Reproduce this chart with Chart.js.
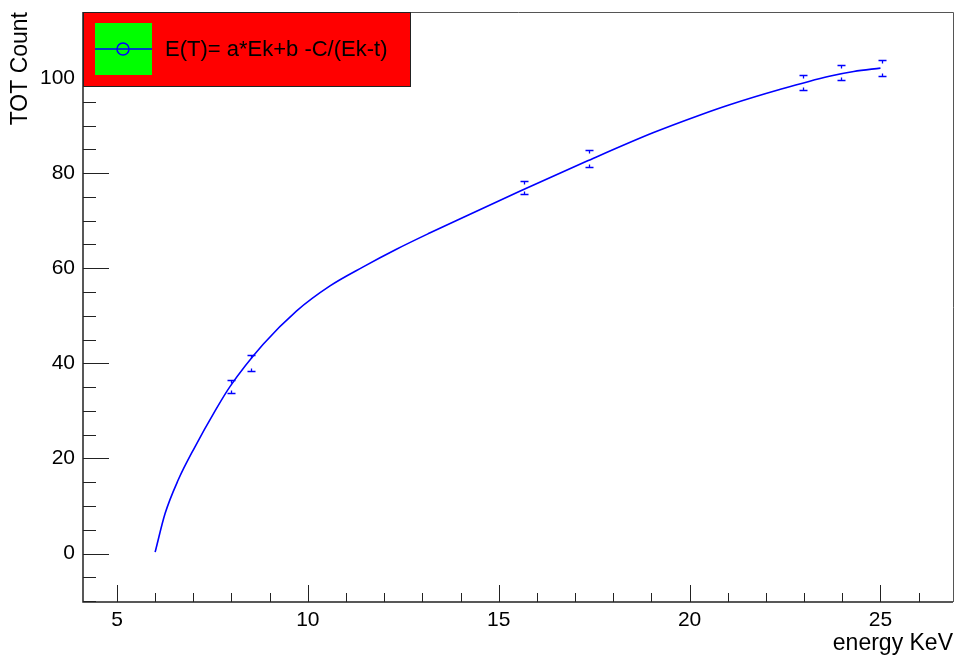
<!DOCTYPE html>
<html>
<head>
<meta charset="utf-8">
<script src="https://cdn.jsdelivr.net/npm/chart.js@4"></script>
<style>
  html, body { margin: 0; padding: 0; background: #fff; }
  canvas { display: block; }
</style>
</head>
<body>
<canvas id="chart" width="955" height="657"></canvas>
<script>
// measured points (energy in keV, TOT count, error)
const energy = [8.0, 8.5, 15.66, 17.36, 22.97, 23.97, 25.03];
const totCount = [35.1, 40.1, 77.0, 83.1, 99.0, 101.1, 102.1];
const totError = [1.4, 1.65, 1.4, 1.8, 1.6, 1.6, 1.6];

// fit curve
const fitEnergy = [6.0, 6.26, 6.6, 7.04, 7.57, 7.96, 8.83, 9.7, 10.58, 11.45, 12.32, 13.19, 14.15, 15.55, 17.3, 19.04, 20.26, 21.05, 22.36, 23.66, 24.3, 25.0];
const fitTot = [0.3, 8.4, 15.4, 22.4, 30.0, 35.1, 44.0, 51.0, 56.3, 60.3, 64.0, 67.4, 71.0, 76.2, 82.5, 88.5, 92.2, 94.4, 97.6, 100.4, 101.4, 102.1];

const xTicks = [5, 10, 15, 20, 25];
const yTicks = [0, 20, 40, 60, 80, 100];
const legendText = 'E(T)= a*Ek+b -C/(Ek-t)';

const FONT = "'Liberation Sans', Arial, sans-serif";

// ROOT style frame: inside ticks, minor ticks, box
const frameAndTicks = {
  id: 'frameAndTicks',
  afterDatasetsDraw(chart) {
    const { ctx, chartArea: a, scales: { x, y } } = chart;
    ctx.save();
    // top/right frame
    ctx.strokeStyle = '#555';
    ctx.lineWidth = 1;
    ctx.beginPath();
    ctx.moveTo(a.left, a.top + 0.5);
    ctx.lineTo(a.right + 0.5, a.top + 0.5);
    ctx.lineTo(a.right + 0.5, a.bottom);
    ctx.stroke();

    ctx.strokeStyle = '#222';
    ctx.lineWidth = 1.5;
    ctx.beginPath();
    ctx.moveTo(a.left, a.top);
    ctx.lineTo(a.left, a.bottom);
    ctx.lineTo(a.right, a.bottom);
    ctx.stroke();

    ctx.lineWidth = 1;
    ctx.beginPath();
    // y ticks
    for (let v = -10; v <= 110; v += 5) {
      const py = Math.round(y.getPixelForValue(v)) + 0.5;
      if (py < a.top || py > a.bottom) continue;
      const len = yTicks.includes(v) ? 26 : 13;
      ctx.moveTo(a.left, py);
      ctx.lineTo(a.left + len, py);
    }
    // x ticks
    for (let v = 5; v <= 26; v += 1) {
      const px = Math.round(x.getPixelForValue(v)) + 0.5;
      const len = xTicks.includes(v) ? 17 : 9;
      ctx.moveTo(px, a.bottom);
      ctx.lineTo(px, a.bottom - len);
    }
    ctx.stroke();

    // error bars
    ctx.strokeStyle = '#0000ff';
    ctx.lineWidth = 1.3;
    ctx.beginPath();
    energy.forEach((e, i) => {
      const px = Math.round(x.getPixelForValue(e)) + 0.5;
      const hi = Math.round(y.getPixelForValue(totCount[i] + totError[i])) + 0.5;
      const lo = Math.round(y.getPixelForValue(totCount[i] - totError[i])) + 0.5;
      ctx.moveTo(px - 4, hi); ctx.lineTo(px + 4, hi);
      ctx.moveTo(px, hi); ctx.lineTo(px, hi + 3);
      ctx.moveTo(px - 4, lo); ctx.lineTo(px + 4, lo);
      ctx.moveTo(px, lo); ctx.lineTo(px, lo - 3);
    });
    ctx.stroke();
    ctx.restore();
  },
  afterDraw(chart) {
    const { ctx, chartArea: a } = chart;
    ctx.save();
    // legend box
    ctx.fillStyle = '#ff0000';
    ctx.fillRect(a.left, a.top, 327, 74);
    ctx.strokeStyle = '#222';
    ctx.lineWidth = 1;
    ctx.strokeRect(a.left + 0.5, a.top + 0.5, 327, 74);
    ctx.fillStyle = '#00ff00';
    ctx.fillRect(a.left + 12, a.top + 11, 57, 52);
    ctx.strokeStyle = '#0000ff';
    ctx.lineWidth = 1.5;
    ctx.beginPath();
    ctx.moveTo(a.left + 12, a.top + 37);
    ctx.lineTo(a.left + 69, a.top + 37);
    ctx.stroke();
    ctx.beginPath();
    ctx.arc(a.left + 40, a.top + 37, 6, 0, Math.PI * 2);
    ctx.stroke();
    ctx.fillStyle = '#000';
    ctx.font = '22px ' + FONT;
    ctx.textBaseline = 'middle';
    ctx.fillText(chart.data.datasets[1].label, a.left + 82, a.top + 38);
    ctx.restore();
  }
};

new Chart(document.getElementById('chart'), {
  type: 'scatter',
  data: {
    datasets: [
      {
        label: 'fit',
        type: 'line',
        data: fitEnergy.map((e, i) => ({ x: e, y: fitTot[i] })),
        borderColor: '#0000ff',
        borderWidth: 1.6,
        pointRadius: 0,
        fill: false,
        cubicInterpolationMode: 'monotone'
      },
      {
        label: legendText,
        data: energy.map((e, i) => ({ x: e, y: totCount[i] })),
        pointRadius: 0,
        showLine: false
      }
    ]
  },
  options: {
    responsive: false,
    devicePixelRatio: 1,
    animation: false,
    layout: { padding: { top: 12, right: 2, left: 0, bottom: 0 } },
    plugins: { legend: { display: false }, tooltip: { enabled: false } },
    scales: {
      x: {
        type: 'linear',
        position: 'bottom',
        min: 4.11,
        max: 26.9,
        grid: { display: false, drawTicks: false },
        border: { display: false },
        afterBuildTicks: s => { s.ticks = xTicks.map(v => ({ value: v })); },
        afterFit: s => { s.height = 55; s.paddingLeft = 0; s.paddingRight = 0; },
        ticks: {
          color: '#000', padding: 6, maxRotation: 0, autoSkip: false,
          font: { family: FONT, size: 21 }
        },
        title: {
          display: true, text: 'energy KeV', align: 'end', color: '#000',
          font: { family: FONT, size: 23 }, padding: 0
        }
      },
      y: {
        type: 'linear',
        min: -10.2,
        max: 113.9,
        grid: { display: false, drawTicks: false },
        border: { display: false },
        afterBuildTicks: s => { s.ticks = yTicks.map(v => ({ value: v })); },
        afterFit: s => { s.width = 83; s.paddingTop = 0; s.paddingBottom = 0; },
        ticks: {
          color: '#000', padding: 8,
          font: { family: FONT, size: 21 }
        },
        title: {
          display: true, text: 'TOT Count', align: 'end', color: '#000',
          font: { family: FONT, size: 23 }, padding: { top: 7, bottom: 0 }
        }
      }
    }
  },
  plugins: [frameAndTicks]
});
</script>
</body>
</html>
